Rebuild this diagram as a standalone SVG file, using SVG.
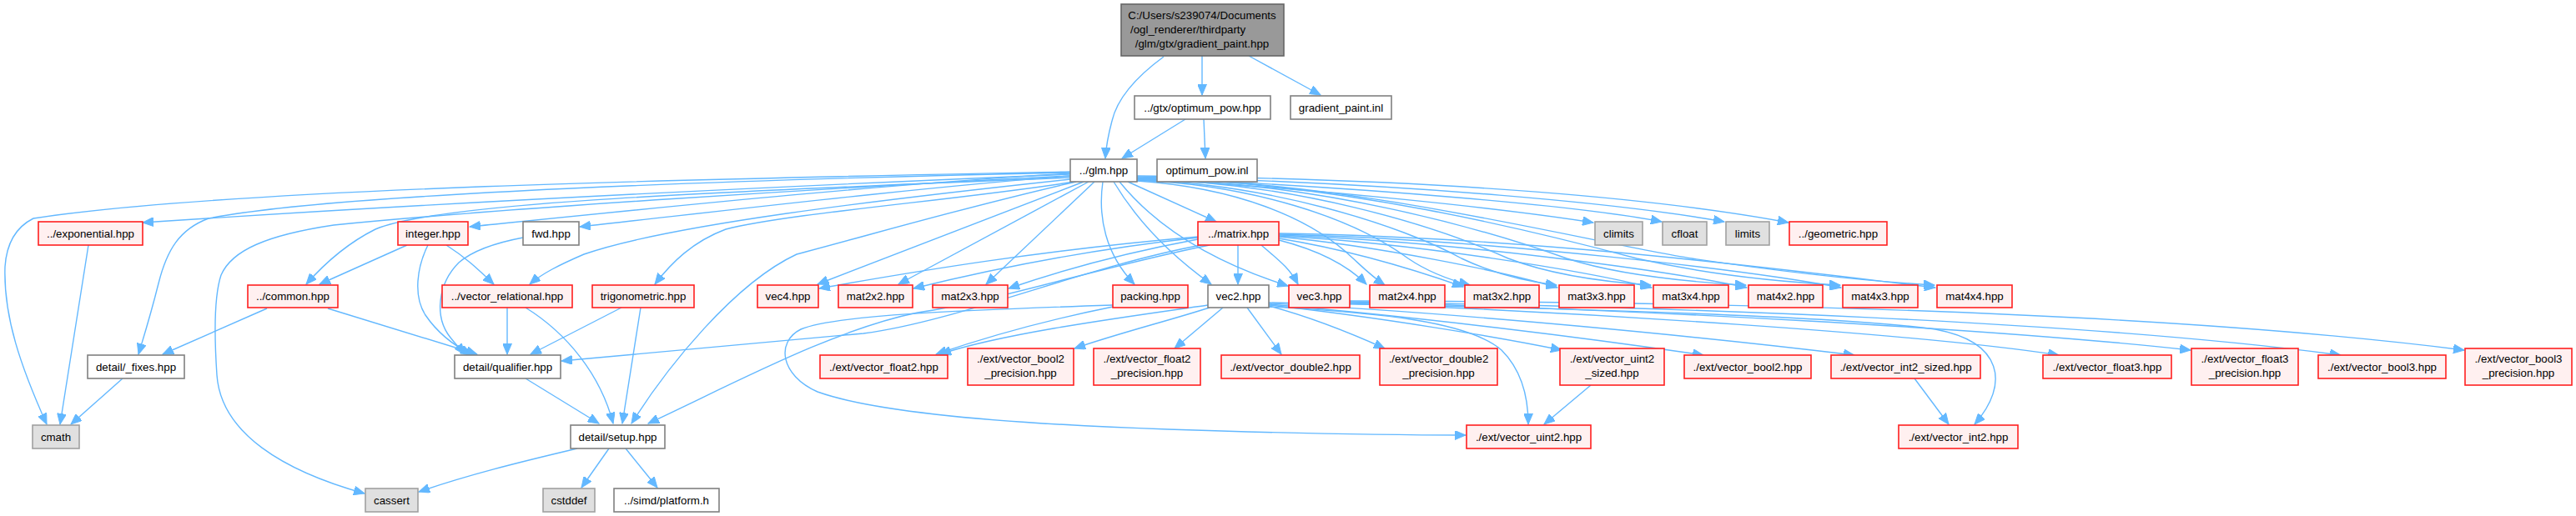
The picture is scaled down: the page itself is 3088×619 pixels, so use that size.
<svg xmlns="http://www.w3.org/2000/svg" width="3088" height="619" viewBox="0 0 3088 619">
<style>
text{font-family:"Liberation Sans",Arial,sans-serif;font-size:13.3px;text-anchor:middle;fill:#000}
.red{fill:#fff0f0;stroke:#ff2020;stroke-width:1.6}
.wht{fill:#fff;stroke:#808080;stroke-width:1.6}
.sys{fill:#e0e0e0;stroke:#a0a0a0;stroke-width:1.6}
.root{fill:#999;stroke:#666;stroke-width:1.6}
#edges path{fill:none;stroke:#63b8ff;stroke-width:1.4;marker-end:url(#a)}
</style>
<defs>
<marker id="a" markerWidth="14" markerHeight="11" refX="13" refY="5.5" orient="auto" markerUnits="userSpaceOnUse">
<path d="M0,0 L13,5.5 L0,11 z" fill="#63b8ff" stroke="#63b8ff"/>
</marker>
</defs>
<rect width="3088" height="619" fill="#fff"/>
<g id="edges">
<path d="M1395,68 C1365,90 1340,115 1333,145 C1329,160 1326,175 1325,190"/>
<path d="M1441,67 L1441,114"/>
<path d="M1497,67 L1583,114"/>
<path d="M1421,143 L1345,190"/>
<path d="M1443,143 L1445,190"/>
<path d="M1283,206 C1000,212 300,222 40,262 C20,272 8,290 6,320 C4,380 25,440 56,509"/>
<path d="M106,294 L72,509"/>
<path d="M147,454 L85,509"/>
<path d="M1283,207 C900,215 400,232 250,262 C215,275 200,300 190,340 C180,380 172,405 166,425"/>
<path d="M1283,209 C900,225 500,245 171,267"/>
<path d="M1283,211 C1000,225 600,250 400,270 C320,282 278,300 265,330 C255,360 258,420 260,450 C265,520 340,565 437,592"/>
<path d="M1283,213 C800,232 520,245 450,275 C420,290 390,315 367,341"/>
<path d="M488,294 L383,341"/>
<path d="M535,294 C560,310 575,325 592,341"/>
<path d="M513,294 C500,320 495,355 510,378 C525,400 545,415 565,425"/>
<path d="M627,285 C590,292 565,302 550,315 C525,340 520,380 540,405 C548,415 553,420 557,425"/>
<path d="M320,370 L195,425"/>
<path d="M393,370 L572,425"/>
<path d="M1283,215 C1050,240 800,270 700,305 C670,318 650,328 635,341"/>
<path d="M1283,211 C1100,225 850,255 695,272"/>
<path d="M1283,208 C1050,222 800,248 563,272"/>
<path d="M1288,218 C1150,240 950,255 870,275 C830,290 805,315 785,341"/>
<path d="M1299,218 L980,341"/>
<path d="M1290,218 C1150,250 1050,280 955,305 C880,340 800,440 757,508"/>
<path d="M1305,218 L1077,341"/>
<path d="M1312,218 L1182,341"/>
<path d="M1322,218 C1316,260 1325,305 1360,341"/>
<path d="M1335,218 C1360,260 1395,300 1452,341"/>
<path d="M1342,218 C1380,265 1440,310 1544,343"/>
<path d="M1352,218 L1458,266"/>
<path d="M1363,214 C1600,228 1800,250 1910,267"/>
<path d="M1363,213 C1650,225 1900,248 1992,266"/>
<path d="M1363,212 C1700,220 1950,245 2067,266"/>
<path d="M1363,211 C1750,215 2000,240 2144,267"/>
<path d="M1363,217 C1480,225 1570,260 1622,310 C1635,322 1645,332 1660,342"/>
<path d="M1363,216 C1500,222 1620,260 1688,310 C1710,325 1735,335 1762,342"/>
<path d="M1363,216 C1520,220 1680,270 1752,310 C1790,328 1830,338 1866,342"/>
<path d="M1363,215 C1550,218 1720,270 1808,310 C1860,330 1920,338 1979,342"/>
<path d="M1363,215 C1580,217 1780,275 1878,310 C1940,330 2020,338 2093,342"/>
<path d="M1363,214 C1600,216 1850,280 1962,310 C2050,330 2130,338 2206,342"/>
<path d="M1363,214 C1620,215 1900,290 2028,310 C2150,328 2250,338 2319,342"/>
<path d="M1436,284 C1250,300 1100,325 982,346"/>
<path d="M1436,285 C1300,300 1180,325 1095,346"/>
<path d="M1436,287 C1350,303 1270,325 1209,346"/>
<path d="M1440,294 C1300,320 1150,385 1035,400 C900,412 760,425 673,433"/>
<path d="M1450,294 C1320,320 1200,360 1100,375 C1000,395 880,460 777,508"/>
<path d="M1484,294 L1484,341"/>
<path d="M1512,294 C1530,310 1545,320 1556,341"/>
<path d="M1533,288 C1580,300 1615,318 1638,341"/>
<path d="M1533,286 C1620,300 1700,325 1754,344"/>
<path d="M1533,284 C1650,295 1800,325 1867,345"/>
<path d="M1533,283 C1700,292 1900,325 1980,345"/>
<path d="M1533,282 C1750,290 2000,325 2094,345"/>
<path d="M1533,281 C1800,288 2100,325 2207,345"/>
<path d="M1533,280 C1850,285 2150,325 2320,345"/>
<path d="M1334,368 C1250,385 1180,405 1122,425"/>
<path d="M1334,366 C1150,372 1000,378 960,395 C930,410 935,450 980,470 C1050,495 1200,508 1400,515 C1550,520 1650,522 1757,522"/>
<path d="M1448,366 C1350,380 1200,400 1127,425"/>
<path d="M1450,369 C1400,385 1340,400 1288,418"/>
<path d="M1466,369 L1408,418"/>
<path d="M1495,369 L1536,425"/>
<path d="M1521,367 C1570,380 1620,400 1660,418"/>
<path d="M1521,366 C1650,380 1800,405 1872,420"/>
<path d="M1521,365 C1700,380 1900,405 2042,426"/>
<path d="M1521,364 C1750,375 2050,405 2223,426"/>
<path d="M1521,368 C1650,375 1760,385 1800,420 C1825,445 1832,480 1832,509"/>
<path d="M1521,363 C1800,368 2200,378 2320,395 C2400,410 2410,460 2367,509"/>
<path d="M1618,364 C1900,375 2300,400 2468,426"/>
<path d="M1618,363 C1950,370 2400,395 2626,420"/>
<path d="M1618,362 C2000,368 2500,385 2806,426"/>
<path d="M1618,361 C2100,362 2600,375 2954,420"/>
<path d="M1907,462 L1851,509"/>
<path d="M2295,454 L2336,509"/>
<path d="M692,538 C620,555 560,570 502,590"/>
<path d="M730,538 L697,585"/>
<path d="M750,538 L788,585"/>
<path d="M630,454 L718,508"/>
<path d="M608,369 L608,425"/>
<path d="M630,369 C680,400 720,450 735,508"/>
<path d="M745,369 L636,425"/>
<path d="M768,369 L746,508"/>
</g>
<g id="root"><rect class="root" x="1344" y="5" width="195" height="62"/><text x="1441" y="23">C:/Users/s239074/Documents</text><text x="1355" y="40.4" style="text-anchor:start">/ogl_renderer/thirdparty</text><text x="1441" y="57.4">/glm/gtx/gradient_paint.hpp</text></g>
<g id="n_opt"><rect class="wht" x="1360" y="115" width="163" height="28"/><text x="1441.5" y="134">../gtx/optimum_pow.hpp</text></g>
<g id="n_gpi"><rect class="wht" x="1547" y="115" width="121" height="28"/><text x="1607.5" y="134">gradient_paint.inl</text></g>
<g id="n_glm"><rect class="wht" x="1283" y="191" width="80" height="27"/><text x="1323" y="209">../glm.hpp</text></g>
<g id="n_opi"><rect class="wht" x="1387" y="191" width="120" height="27"/><text x="1447" y="209">optimum_pow.inl</text></g>
<g id="n_exp"><rect class="red" x="46" y="266" width="125" height="28"/><text x="108.5" y="284.7">../exponential.hpp</text></g>
<g id="n_int"><rect class="red" x="477" y="266" width="84" height="28"/><text x="519" y="284.7">integer.hpp</text></g>
<g id="n_fwd"><rect class="wht" x="627" y="266" width="67" height="28"/><text x="660.5" y="284.7">fwd.hpp</text></g>
<g id="n_mat"><rect class="red" x="1436" y="266" width="97" height="28"/><text x="1484.5" y="284.7">../matrix.hpp</text></g>
<g id="n_clim"><rect class="sys" x="1912" y="266" width="57" height="28"/><text x="1940.5" y="284.7">climits</text></g>
<g id="n_cflt"><rect class="sys" x="1993" y="266" width="53" height="28"/><text x="2019.5" y="284.7">cfloat</text></g>
<g id="n_lim"><rect class="sys" x="2069" y="266" width="52" height="28"/><text x="2095" y="284.7">limits</text></g>
<g id="n_geo"><rect class="red" x="2145" y="266" width="117" height="28"/><text x="2203.5" y="284.7">../geometric.hpp</text></g>
<g id="n_com"><rect class="red" x="297" y="342" width="108" height="27"/><text x="351" y="360">../common.hpp</text></g>
<g id="n_vrel"><rect class="red" x="530" y="342" width="156" height="27"/><text x="608" y="360">../vector_relational.hpp</text></g>
<g id="n_trig"><rect class="red" x="710" y="342" width="122" height="27"/><text x="771" y="360">trigonometric.hpp</text></g>
<g id="n_vec4"><rect class="red" x="908" y="342" width="73" height="27"/><text x="944.5" y="360">vec4.hpp</text></g>
<g id="n_m22"><rect class="red" x="1005" y="342" width="89" height="27"/><text x="1049.5" y="360">mat2x2.hpp</text></g>
<g id="n_m23"><rect class="red" x="1118" y="342" width="90" height="27"/><text x="1163" y="360">mat2x3.hpp</text></g>
<g id="n_pack"><rect class="red" x="1334" y="342" width="90" height="27"/><text x="1379" y="360">packing.hpp</text></g>
<g id="n_vec2"><rect class="wht" x="1448" y="342" width="73" height="27"/><text x="1484.5" y="360">vec2.hpp</text></g>
<g id="n_vec3"><rect class="red" x="1545" y="342" width="73" height="27"/><text x="1581.5" y="360">vec3.hpp</text></g>
<g id="n_m24"><rect class="red" x="1642" y="342" width="90" height="27"/><text x="1687" y="360">mat2x4.hpp</text></g>
<g id="n_m32"><rect class="red" x="1756" y="342" width="89" height="27"/><text x="1800.5" y="360">mat3x2.hpp</text></g>
<g id="n_m33"><rect class="red" x="1869" y="342" width="90" height="27"/><text x="1914" y="360">mat3x3.hpp</text></g>
<g id="n_m34"><rect class="red" x="1982" y="342" width="90" height="27"/><text x="2027" y="360">mat3x4.hpp</text></g>
<g id="n_m42"><rect class="red" x="2096" y="342" width="89" height="27"/><text x="2140.5" y="360">mat4x2.hpp</text></g>
<g id="n_m43"><rect class="red" x="2209" y="342" width="90" height="27"/><text x="2254" y="360">mat4x3.hpp</text></g>
<g id="n_m44"><rect class="red" x="2322" y="342" width="90" height="27"/><text x="2367" y="360">mat4x4.hpp</text></g>
<g id="n_fix"><rect class="wht" x="105" y="426" width="116" height="28"/><text x="163" y="444.7">detail/_fixes.hpp</text></g>
<g id="n_qual"><rect class="wht" x="545" y="426" width="127" height="28"/><text x="608.5" y="444.7">detail/qualifier.hpp</text></g>
<g id="n_vf2"><rect class="red" x="983" y="426" width="153" height="28"/><text x="1059.5" y="444.7">./ext/vector_float2.hpp</text></g>
<g id="n_vb2p"><rect class="red" x="1160" y="418" width="127" height="44"/><text x="1223.5" y="435.4">./ext/vector_bool2</text><text x="1223.5" y="452.4">_precision.hpp</text></g>
<g id="n_vf2p"><rect class="red" x="1311" y="418" width="128" height="44"/><text x="1375" y="435.4">./ext/vector_float2</text><text x="1375" y="452.4">_precision.hpp</text></g>
<g id="n_vd2"><rect class="red" x="1464" y="426" width="166" height="28"/><text x="1547" y="444.7">./ext/vector_double2.hpp</text></g>
<g id="n_vd2p"><rect class="red" x="1654" y="418" width="141" height="44"/><text x="1724.5" y="435.4">./ext/vector_double2</text><text x="1724.5" y="452.4">_precision.hpp</text></g>
<g id="n_vu2s"><rect class="red" x="1870" y="418" width="125" height="44"/><text x="1932.5" y="435.4">./ext/vector_uint2</text><text x="1932.5" y="452.4">_sized.hpp</text></g>
<g id="n_vb2"><rect class="red" x="2019" y="426" width="152" height="28"/><text x="2095" y="444.7">./ext/vector_bool2.hpp</text></g>
<g id="n_vi2s"><rect class="red" x="2195" y="426" width="179" height="28"/><text x="2284.5" y="444.7">./ext/vector_int2_sized.hpp</text></g>
<g id="n_vf3"><rect class="red" x="2449" y="426" width="154" height="28"/><text x="2526" y="444.7">./ext/vector_float3.hpp</text></g>
<g id="n_vf3p"><rect class="red" x="2627" y="418" width="128" height="44"/><text x="2691" y="435.4">./ext/vector_float3</text><text x="2691" y="452.4">_precision.hpp</text></g>
<g id="n_vb3"><rect class="red" x="2779" y="426" width="153" height="28"/><text x="2855.5" y="444.7">./ext/vector_bool3.hpp</text></g>
<g id="n_vb3p"><rect class="red" x="2955" y="418" width="128" height="44"/><text x="3019" y="435.4">./ext/vector_bool3</text><text x="3019" y="452.4">_precision.hpp</text></g>
<g id="n_cmath"><rect class="sys" x="39" y="510" width="56" height="28"/><text x="67" y="528.7">cmath</text></g>
<g id="n_setup"><rect class="wht" x="684" y="510" width="113" height="28"/><text x="740.5" y="528.7">detail/setup.hpp</text></g>
<g id="n_vu2"><rect class="red" x="1758" y="510" width="149" height="28"/><text x="1832.5" y="528.7">./ext/vector_uint2.hpp</text></g>
<g id="n_vi2"><rect class="red" x="2276" y="510" width="143" height="28"/><text x="2347.5" y="528.7">./ext/vector_int2.hpp</text></g>
<g id="n_cass"><rect class="sys" x="438" y="586" width="63" height="28"/><text x="469.5" y="604.7">cassert</text></g>
<g id="n_cstd"><rect class="sys" x="651" y="586" width="62" height="28"/><text x="682" y="604.7">cstddef</text></g>
<g id="n_simd"><rect class="wht" x="736" y="586" width="126" height="28"/><text x="799" y="604.7">../simd/platform.h</text></g>
</svg>
